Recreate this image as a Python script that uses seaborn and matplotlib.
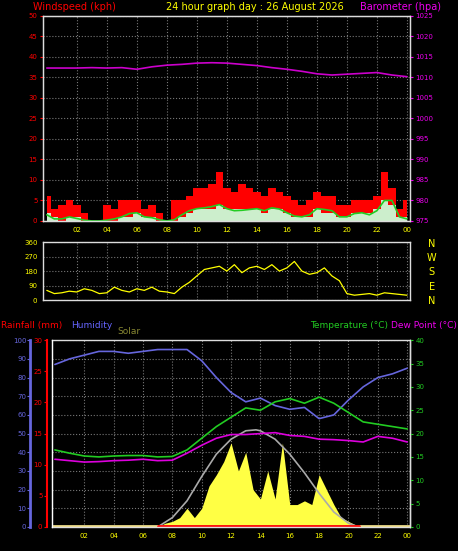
import numpy as np
import pandas as pd
import matplotlib
matplotlib.use("Agg")
import matplotlib.pyplot as plt
import seaborn as sns

sns.set_style("dark")
plt.rcParams['font.family'] = ['DejaVu Sans']

hours = list(range(25))
half = [i * 0.5 for i in range(49)]
xtick_labels = ["02", "04", "06", "08", "10", "12", "14", "16", "18", "20", "22", "00"]

barometer = [1012.3, 1012.3, 1012.3, 1012.4, 1012.3, 1012.4, 1012.0, 1012.6, 1013.0, 1013.2, 1013.5, 1013.6,
             1013.5, 1013.2, 1012.9, 1012.4, 1012.0, 1011.5, 1010.9, 1010.6, 1010.8, 1011.0, 1011.2, 1010.6, 1010.2]
gust = [6, 3, 4, 5, 4, 2, 0, 0, 4, 3, 5, 5, 5, 3, 4, 2, 0, 5, 5, 6, 8, 8, 9, 12, 8, 7, 9, 8, 7, 6, 8, 7,
        6, 5, 4, 5, 7, 6, 6, 4, 4, 5, 5, 5, 6, 12, 8, 3, 5]
avgwind = [2, 1, 0, 1, 1, 0, 0, 0, 0, 0, 1, 1, 2, 1, 1, 0, 0, 0, 1, 2, 3, 3, 3, 4, 3, 3, 3, 3, 3, 2, 3, 3,
           2, 1, 1, 1, 3, 2, 2, 1, 1, 2, 2, 2, 3, 5, 4, 1, 1]
avgline = [1.5, 0.5, 0.5, 1.0, 0.6, 0.2, 0, 0, 0.2, 0.5, 1.0, 1.8, 2.0, 1.0, 0.8, 0.3, 0, 0.3, 1.5, 2.5, 3.0,
           3.2, 3.5, 4.0, 3.0, 2.5, 2.6, 2.8, 3.0, 2.5, 3.2, 2.9, 2.0, 1.2, 1.0, 1.5, 3.0, 2.8, 2.5, 1.0,
           1.0, 1.8, 2.0, 1.5, 2.5, 5.0, 5.0, 1.0, 0.5]
wind_dir = [60, 40, 45, 55, 50, 70, 60, 40, 45, 80, 60, 50, 70, 60, 80, 55, 50, 40, 80, 110, 150, 190, 200, 210,
            180, 220, 170, 200, 210, 190, 220, 180, 200, 240, 180, 160, 170, 200, 150, 120, 40, 30, 35, 40,
            30, 45, 40, 35, 30]
humidity = [87, 90, 92, 94, 94, 93, 94, 95, 95, 95, 89, 80, 72, 67, 69, 65, 63, 64, 58, 60, 68, 75, 80, 82, 85]
temperature = [16.5, 15.8, 15.2, 15.0, 15.2, 15.3, 15.3, 15.0, 15.1, 16.5, 19.0, 21.5, 23.5, 25.5, 25.0, 26.8,
               27.5, 26.5, 27.8, 26.5, 24.5, 22.5, 22.0, 21.5, 21.0]
dewpoint = [14.5, 14.2, 13.9, 14.0, 14.2, 14.3, 14.5, 14.2, 14.3, 15.8, 17.5, 19.0, 19.8, 19.8, 20.0, 20.2,
            19.6, 19.4, 18.8, 18.7, 18.5, 18.2, 19.4, 19.0, 18.2]
solar_t = [7, 7.5, 8, 8.5, 9, 9.5, 10, 10.5, 11, 11.5, 12, 12.5, 13, 13.5, 14, 14.5, 15, 15.5, 16, 16.5, 17,
           17.5, 18, 18.5, 19, 19.5, 20, 20.5, 20.7]
solar = [0, 2, 3, 5, 10, 5, 10, 22, 28, 35, 45, 30, 40, 20, 15, 30, 15, 45, 12, 12, 14, 12, 28, 20, 12, 5, 3, 1, 0]
solarmax_t = [7, 8, 9, 10, 11, 12, 13, 13.7, 14, 15, 16, 17, 18, 19, 20, 20.7]
solarmax = [0, 5, 14, 27, 39, 47, 51.5, 52, 51.5, 47, 39, 29, 18, 8, 2, 0]

fig = plt.figure(figsize=(4.58, 5.51), dpi=100, facecolor="black")
FS = 7
TS = 5

def style(ax, xmin, xmax):
    ax.set_facecolor("black")
    ax.set_xlim(xmin, xmax)
    ax.set_xticks(range(2, 25, 2))
    ax.set_xticklabels(xtick_labels, color="yellow", fontsize=TS)
    ax.grid(True, color="#777777", linestyle=":", linewidth=0.8)
    for s in ax.spines.values():
        s.set_color("#dddddd")
        s.set_linewidth(1)
    ax.tick_params(length=2, pad=2)
    ax.set_xlabel("")
    ax.set_ylabel("")

# ---- Top panel
ax1 = fig.add_axes([0.094, 0.599, 0.801, 0.372])
style(ax1, -0.25, 24.2)
ax1.fill_between(half, gust, step="mid", color="red", lw=0)
ax1.fill_between(half, avgwind, step="mid", color="#cceecc", lw=0)
sns.lineplot(x=half, y=avgline, ax=ax1, color="#22cc22", lw=1.2)
ax1.set_ylim(0, 50)
ax1.set_yticks(range(0, 51, 5))
ax1.tick_params(axis="y", colors="red", labelsize=TS)
ax1.set_xlabel(""); ax1.set_ylabel("")
ax1b = ax1.twinx()
sns.lineplot(x=hours, y=barometer, ax=ax1b, color="#cc00cc", lw=1.2)
ax1b.set_ylim(975, 1025)
ax1b.set_yticks(range(975, 1026, 5))
ax1b.tick_params(axis="y", colors="#ee00ee", labelsize=TS, length=2, pad=2)
ax1b.set_xlabel(""); ax1b.set_ylabel("")
ax1b.grid(False)
for s in ax1b.spines.values():
    s.set_color("#dddddd")

fig.text(0.072, 0.988, "Windspeed (kph)", color="red", fontsize=FS, va="center")
fig.text(0.557, 0.988, "24 hour graph day : 26 August 2026", color="yellow", fontsize=FS, va="center", ha="center")
fig.text(0.962, 0.988, "Barometer (hpa)", color="#ee00ee", fontsize=FS, va="center", ha="right")

# ---- Middle panel (wind direction)
ax2 = fig.add_axes([0.094, 0.4555, 0.801, 0.105])
style(ax2, -0.25, 24.2)
sns.lineplot(x=half, y=wind_dir, ax=ax2, color="yellow", lw=0.9)
ax2.set_ylim(0, 360)
ax2.set_yticks([0, 90, 180, 270, 360])
ax2.set_xticklabels([])
ax2.tick_params(axis="x", length=0)
ax2.tick_params(axis="y", colors="yellow", labelsize=TS)
ax2.set_xlabel(""); ax2.set_ylabel("")
for i, lab in enumerate(["N", "W", "S", "E", "N"]):
    fig.text(0.943, 0.558 - i * 0.026, lab, color="yellow", fontsize=FS, va="center", ha="center")

# ---- Bottom panel
ax3 = fig.add_axes([0.1135, 0.0436, 0.782, 0.339])
style(ax3, -0.2, 24.2)
ax3.set_ylim(0, 100)
ax3.fill_between(solar_t, solar, color="#ffff44", lw=0)
sns.lineplot(x=solarmax_t, y=solarmax, ax=ax3, color="#aaaaaa", lw=1.2)
sns.lineplot(x=hours, y=humidity, ax=ax3, color="#6666dd", lw=1.2)
ax3.plot([-0.2, 24.2], [0.4, 0.4], color="#eedd88", lw=2)
ax3.plot([7, 20.7], [0.4, 0.4], color="red", lw=2)
ax3.set_xlabel(""); ax3.set_ylabel("")
ax3.set_yticks(range(0, 101, 10))
ax3.set_yticklabels([])
ax3.tick_params(axis="y", length=0)

axh = ax3.twinx()
axh.set_ylim(0, 100)
axh.yaxis.set_ticks_position("left")
axh.spines["left"].set_position(("axes", -0.06))
axh.spines["left"].set_color("#6666dd")
axh.spines["left"].set_linewidth(2)
axh.set_yticks(range(0, 101, 10))
axh.tick_params(axis="y", colors="#6666dd", labelsize=TS, length=2, pad=1)
axh.grid(False)

axr = ax3.twinx()
axr.set_ylim(0, 30)
axr.yaxis.set_ticks_position("left")
axr.spines["left"].set_position(("axes", -0.015))
axr.spines["left"].set_color("red")
axr.spines["left"].set_linewidth(1.5)
axr.set_yticks(range(0, 31, 5))
axr.tick_params(axis="y", colors="red", labelsize=TS, length=2, pad=1)
axr.grid(False)

axt = ax3.twinx()
sns.lineplot(x=hours, y=temperature, ax=axt, color="#22cc22", lw=1.2)
sns.lineplot(x=hours, y=dewpoint, ax=axt, color="#dd00dd", lw=1.2)
axt.set_ylim(0, 40)
axt.set_yticks(range(0, 41, 5))
axt.tick_params(axis="y", colors="#22cc22", labelsize=TS, length=2, pad=2)
axt.set_xlabel(""); axt.set_ylabel("")
axt.grid(False)
for a in (axh, axr, axt):
    for k in ("top", "bottom"):
        a.spines[k].set_visible(False)
axt.spines["right"].set_color("#dddddd")

fig.text(0.002, 0.41, "Rainfall (mm)", color="red", fontsize=6.5, va="center")
fig.text(0.155, 0.41, "Humidity", color="#6666ff", fontsize=6.5, va="center")
fig.text(0.257, 0.398, "Solar", color="#888833", fontsize=6.5, va="center")
fig.text(0.998, 0.41, "Dew Point (°C)", color="#ee00ee", fontsize=6.5, va="center", ha="right")
fig.text(0.848, 0.41, "Temperature (°C)", color="#22cc22", fontsize=6.5, va="center", ha="right")

fig.savefig("out.png", dpi=100, facecolor="black")
